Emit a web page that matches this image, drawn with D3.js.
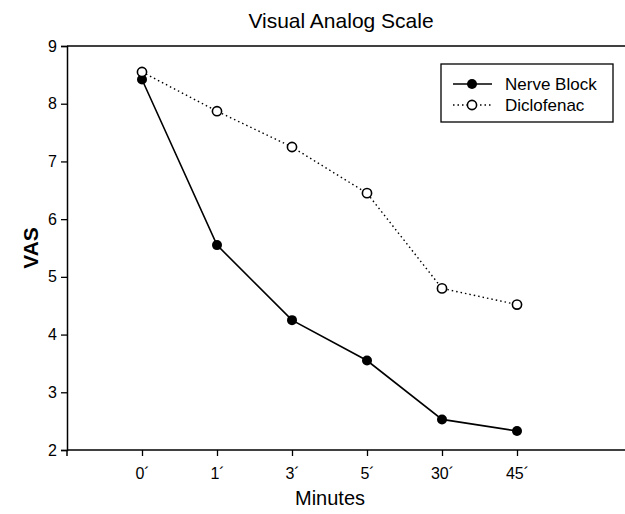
<!DOCTYPE html>
<html>
<head>
<meta charset="utf-8">
<script src="https://cdn.jsdelivr.net/npm/d3@7"></script>
<style>
  body { margin: 0; background: #fff; }
  svg { display: block; font-family: "Liberation Sans", Arial, sans-serif; }
  .tick text { font-size: 16px; fill: #000; }
</style>
</head>
<body>
<div id="chart"></div>
<script>
const categories = ["0\u00b4", "1\u00b4", "3\u00b4", "5\u00b4", "30\u00b4", "45\u00b4"];
const nerveBlock = [8.42, 5.55, 4.25, 3.55, 2.53, 2.33];
const diclofenac = [8.55, 7.87, 7.25, 6.45, 4.80, 4.52];
const yTicks = [2, 3, 4, 5, 6, 7, 8, 9];

const svgWidth = 625, svgHeight = 514;
const margin = {top: 46, left: 67, bottom: 64};
const innerHeight = svgHeight - margin.top - margin.bottom;

const svg = d3.select("#chart").append("svg")
    .attr("width", svgWidth)
    .attr("height", svgHeight);

const xScale = d3.scaleLinear().domain([-1, 7]).range([0, 600]);
const yScale = d3.scaleLinear().domain([2, 9]).range([innerHeight, 0]);

const g = svg.append("g")
    .attr("transform", `translate(${margin.left}, ${margin.top})`);

// frame top line
g.append("line")
    .attr("x1", 0).attr("x2", svgWidth - margin.left)
    .attr("y1", 0).attr("y2", 0)
    .attr("stroke", "#000").attr("stroke-width", 1.5);

const xAxis = d3.axisBottom(xScale)
    .tickValues(d3.range(categories.length))
    .tickFormat(i => categories[i])
    .tickSizeOuter(0)
    .tickSize(6)
    .tickPadding(12);

const yAxis = d3.axisLeft(yScale)
    .tickValues(yTicks)
    .tickFormat(d3.format("d"))
    .tickSizeOuter(0)
    .tickSize(6)
    .tickPadding(4);

const xg = g.append("g")
    .attr("transform", `translate(0, ${innerHeight})`)
    .call(xAxis);
xg.select(".domain").attr("d", `M0,0H${svgWidth - margin.left}`);
// small overshoot of the y axis below the x axis
xg.append("line").attr("x1", 0).attr("x2", 0).attr("y1", 0).attr("y2", 6)
    .attr("stroke", "#000").attr("stroke-width", 1.5);

const yg = g.append("g").call(yAxis);

[xg, yg].forEach(a => {
    a.attr("font-size", null).attr("font-family", null);
    a.select(".domain").attr("stroke-width", 1.5);
    a.selectAll(".tick line").attr("stroke-width", 1.3);
});

const line = d3.line()
    .x((d, i) => xScale(i))
    .y(d => yScale(d));

g.append("path")
    .datum(diclofenac)
    .attr("d", line)
    .attr("fill", "none")
    .attr("stroke", "#000")
    .attr("stroke-width", 1.4)
    .attr("stroke-dasharray", "1.5,3");

g.append("path")
    .datum(nerveBlock)
    .attr("d", line)
    .attr("fill", "none")
    .attr("stroke", "#000")
    .attr("stroke-width", 1.6);

g.selectAll(".nb")
    .data(nerveBlock)
    .enter().append("circle")
    .attr("cx", (d, i) => xScale(i))
    .attr("cy", d => yScale(d))
    .attr("r", 5)
    .attr("fill", "#000");

g.selectAll(".dc")
    .data(diclofenac)
    .enter().append("circle")
    .attr("cx", (d, i) => xScale(i))
    .attr("cy", d => yScale(d))
    .attr("r", 4.6)
    .attr("fill", "#fff")
    .attr("stroke", "#000")
    .attr("stroke-width", 1.6);

// legend
const legend = svg.append("g").attr("transform", "translate(441, 64)");
legend.append("rect")
    .attr("width", 172).attr("height", 58)
    .attr("fill", "#fff").attr("stroke", "#000").attr("stroke-width", 1.3);

const legendItems = [
    {name: "Nerve Block", filled: true},
    {name: "Diclofenac", filled: false}
];
legendItems.forEach((item, i) => {
    const y = 20 + i * 21;
    legend.append("line")
        .attr("x1", 12).attr("x2", 51).attr("y1", y).attr("y2", y)
        .attr("stroke", "#000")
        .attr("stroke-width", item.filled ? 1.6 : 1.4)
        .attr("stroke-dasharray", item.filled ? null : "1.5,3");
    legend.append("circle")
        .attr("cx", 31).attr("cy", y).attr("r", item.filled ? 5 : 4.6)
        .attr("fill", item.filled ? "#000" : "#fff")
        .attr("stroke", "#000").attr("stroke-width", item.filled ? 0 : 1.6);
    legend.append("text")
        .attr("x", 64).attr("y", y + 6)
        .attr("font-size", 17)
        .text(item.name);
});

// titles
svg.append("text")
    .attr("x", 341).attr("y", 28)
    .attr("text-anchor", "middle")
    .attr("font-size", 21)
    .text("Visual Analog Scale");

svg.append("text")
    .attr("x", 330).attr("y", 505)
    .attr("text-anchor", "middle")
    .attr("font-size", 20)
    .text("Minutes");

svg.append("text")
    .attr("transform", `translate(38, ${margin.top + innerHeight / 2}) rotate(-90)`)
    .attr("text-anchor", "middle")
    .attr("font-size", 21)
    .attr("font-weight", "bold")
    .text("VAS");
</script>
</body>
</html>
